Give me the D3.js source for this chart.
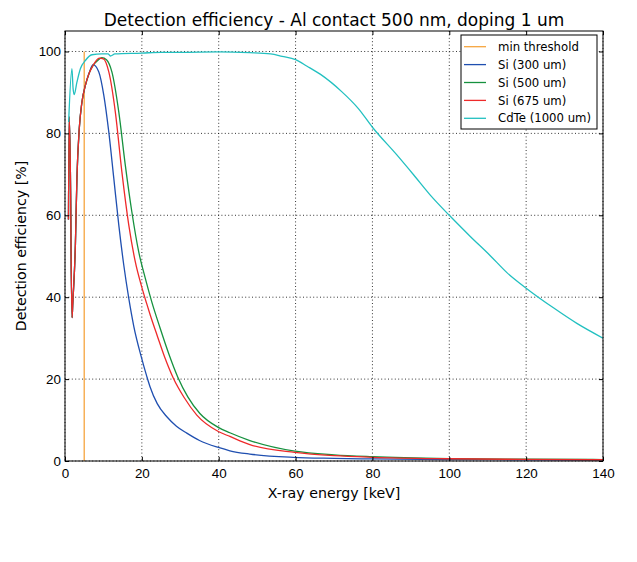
<!DOCTYPE html>
<html>
<head>
<meta charset="utf-8">
<script src="https://cdn.jsdelivr.net/npm/d3@7"></script>
<style>
  body { margin: 0; background: #fff; }
  svg { font-family: "DejaVu Sans", sans-serif; }
  .grid line { stroke: #000; stroke-width: 0.8; stroke-dasharray: 1, 2.4; }
  .axis path { display: none; }
  .axis line { stroke: #000; }
  .axis text { font-size: 13.4px; fill: #000; }
</style>
</head>
<body>
<svg width="637" height="562"></svg>
<script>
// data (energy in keV, efficiency in %)
var thresholdEnergy = [5, 5];
var thresholdEff = [0, 100];

var si300Energy = [0.9, 1.1, 1.5, 1.55, 1.85, 2.0, 2.7, 3.1, 3.7, 4.4, 5.3, 6.2, 7.3, 8.8, 10.1, 11.4, 12.7, 14.0, 15.3, 16.6, 17.9, 19.8, 21.3, 22.1, 24, 26.5, 29, 31.7, 35, 39.9, 42.9, 48.1, 59.4, 70, 80, 100, 120, 140];
var si300Eff = [59, 84, 62, 55, 35, 38, 52.7, 69, 81, 87.6, 91.7, 94.5, 96.8, 95.0, 89.3, 80.3, 69.0, 57.6, 47.8, 39.7, 32.9, 25.6, 20.6, 18.2, 14.0, 10.8, 8.5, 6.8, 5.0, 3.3, 2.5, 1.7, 0.9, 0.65, 0.5, 0.35, 0.3, 0.25];

var si500Energy = [0.9, 1.1, 1.5, 1.55, 1.85, 2.0, 2.7, 3.1, 3.7, 4.4, 5.3, 6.2, 7.3, 8.5, 9.6, 10.8, 12.2, 14.0, 15.7, 17.4, 19.2, 20.9, 22.6, 24.7, 27, 29.3, 32, 35.1, 39.9, 42.9, 48.1, 59.8, 70, 80, 100, 120, 140];
var si500Eff = [59, 84, 62, 55, 35, 38, 52.7, 69, 81, 87.6, 91.7, 94.5, 96.6, 97.8, 98.5, 98.0, 95.0, 85.2, 72.2, 60.8, 51.0, 44.6, 38.8, 32.6, 26.2, 20.6, 15.6, 11.6, 8.2, 6.9, 5.0, 2.4, 1.5, 1.05, 0.6, 0.45, 0.35];

var si675Energy = [0.9, 1.1, 1.5, 1.55, 1.85, 2.0, 2.7, 3.1, 3.7, 4.4, 5.3, 6.2, 7.3, 8.9, 10.0, 11.4, 13.1, 14.8, 16.6, 18.3, 20.0, 21.2, 22.2, 24, 26, 28.2, 31, 34.3, 39.9, 42.9, 48.1, 59.8, 70, 80, 100, 120, 140];
var si675Eff = [59, 84, 62, 55, 35, 38, 52.7, 69, 81, 87.6, 91.7, 94.5, 96.6, 98.4, 98.2, 95.0, 85.2, 70.6, 57.6, 48.6, 42.4, 38.6, 35.6, 30.6, 25.2, 20.2, 15.5, 11.2, 7.2, 6.0, 4.0, 2.1, 1.3, 0.9, 0.55, 0.4, 0.3];

var cdteEnergy = [0.95, 1.8, 2.1, 2.4, 3.1, 4.0, 5.3, 7.0, 9.6, 11.2, 11.8, 13.0, 20, 25, 30, 40, 48, 53.5, 56.5, 60, 63, 66.5, 72, 76.4, 80, 86.3, 90.7, 95, 100, 105.4, 110.6, 115, 120, 127.1, 133.2, 140];
var cdteEff = [82.8, 95.8, 91, 89.5, 92.5, 95.8, 97.8, 99.2, 99.4, 99.4, 98.9, 99.4, 99.6, 99.8, 99.8, 99.9, 99.7, 99.4, 98.8, 98, 96.4, 94.4, 90.2, 86.0, 81.5, 74.8, 69.9, 65, 60, 54.9, 50.2, 46, 42.2, 37.4, 33.6, 30.0];

var seriesNames = ["min threshold", "Si (300 um)", "Si (500 um)", "Si (675 um)", "CdTe (1000 um)"];
var seriesColors = ["#f6a53f", "#1f4fb0", "#16913e", "#ee2a2a", "#22c0c0"];

var xTicks = [0, 20, 40, 60, 80, 100, 120, 140];
var yTicks = [0, 20, 40, 60, 80, 100];

var series = [
  [thresholdEnergy, thresholdEff],
  [si300Energy, si300Eff],
  [si500Energy, si500Eff],
  [si675Energy, si675Eff],
  [cdteEnergy, cdteEff]
].map(function(s, i) {
  return {
    name: seriesNames[i],
    color: seriesColors[i],
    values: s[0].map(function(e, j) { return { e: e, v: s[1][j] }; })
  };
});

var svg = d3.select("svg"),
  margin = { top: 31, right: 34, bottom: 101, left: 65 },
  width = +svg.attr("width") - margin.left - margin.right,
  height = +svg.attr("height") - margin.top - margin.bottom,
  g = svg.append("g")
    .attr("transform", "translate(" + margin.left + "," + margin.top + ")");

var x = d3.scaleLinear().domain([0, 140]).range([0, width]);
var y = d3.scaleLinear().domain([0, 105]).range([height, 0]);

g.append("clipPath").attr("id", "clip")
  .append("rect").attr("width", width).attr("height", height);

// dotted grid
var grid = g.append("g").attr("class", "grid");
grid.selectAll(".gx").data(xTicks).enter().append("line")
  .attr("x1", function(d) { return x(d); })
  .attr("x2", function(d) { return x(d); })
  .attr("y1", 0).attr("y2", height);
grid.selectAll(".gy").data(yTicks).enter().append("line")
  .attr("y1", function(d) { return y(d); })
  .attr("y2", function(d) { return y(d); })
  .attr("x1", 0).attr("x2", width);

// curves
var line = d3.line()
  .curve(d3.curveMonotoneX)
  .x(function(d) { return x(d.e); })
  .y(function(d) { return y(d.v); });

g.append("g").attr("clip-path", "url(#clip)")
  .selectAll("path").data(series).enter().append("path")
  .attr("d", function(d) { return line(d.values); })
  .attr("fill", "none")
  .attr("stroke", function(d) { return d.color; })
  .attr("stroke-width", 1.3)
  .attr("stroke-linejoin", "round");

// axes, ticks pointing inward on all four sides
g.append("g").attr("class", "axis")
  .attr("transform", "translate(0," + height + ")")
  .call(d3.axisBottom(x).tickValues(xTicks).tickSize(-4).tickPadding(7));
g.append("g").attr("class", "axis")
  .call(d3.axisTop(x).tickValues(xTicks).tickSize(-4).tickFormat(""));
g.append("g").attr("class", "axis")
  .call(d3.axisLeft(y).tickValues(yTicks).tickSize(-4).tickPadding(4));
g.append("g").attr("class", "axis")
  .attr("transform", "translate(" + width + ",0)")
  .call(d3.axisRight(y).tickValues(yTicks).tickSize(-4).tickFormat(""));

g.append("rect")
  .attr("width", width).attr("height", height)
  .attr("fill", "none").attr("stroke", "#000").attr("stroke-width", 1);

// titles
svg.append("text")
  .attr("x", margin.left + width / 2).attr("y", 26)
  .attr("text-anchor", "middle").attr("font-size", "17px")
  .text("Detection efficiency - Al contact 500 nm, doping 1 um");
svg.append("text")
  .attr("x", margin.left + width / 2).attr("y", 498)
  .attr("text-anchor", "middle").attr("font-size", "14.2px")
  .text("X-ray energy [keV]");
svg.append("text")
  .attr("transform", "translate(26," + (margin.top + height / 2) + ") rotate(-90)")
  .attr("text-anchor", "middle").attr("font-size", "14.2px")
  .text("Detection efficiency [%]");

// legend
var legend = g.append("g").attr("transform", "translate(" + (width - 142) + ",4)");
legend.append("rect")
  .attr("width", 136).attr("height", 94)
  .attr("fill", "#fff").attr("stroke", "#000").attr("stroke-width", 1);
var item = legend.selectAll(".item").data(series).enter().append("g")
  .attr("transform", function(d, i) { return "translate(0," + (11.7 + i * 17.9) + ")"; });
item.append("line")
  .attr("x1", 3).attr("x2", 25)
  .attr("stroke", function(d) { return d.color; })
  .attr("stroke-width", 1.3);
item.append("text")
  .attr("x", 37).attr("dy", "0.35em")
  .attr("font-size", "11.7px")
  .text(function(d) { return d.name; });
</script>
</body>
</html>
